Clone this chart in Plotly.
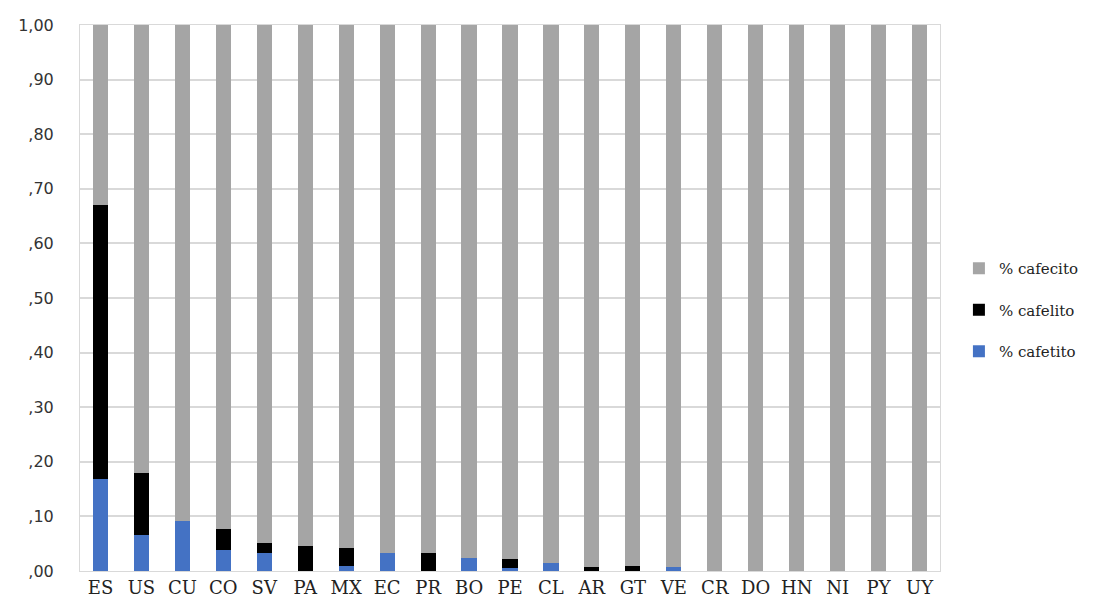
import plotly.graph_objects as go

countries = ["ES", "US", "CU", "CO", "SV", "PA", "MX", "EC", "PR", "BO", "PE",
             "CL", "AR", "GT", "VE", "CR", "DO", "HN", "NI", "PY", "UY"]
cafetito = [0.168, 0.066, 0.092, 0.038, 0.033, 0.0, 0.009, 0.033, 0.0, 0.024, 0.006,
            0.014, 0.0, 0.0, 0.008, 0.0, 0.0, 0.0, 0.0, 0.0, 0.0]
cafelito = [0.502, 0.114, 0.0, 0.039, 0.018, 0.046, 0.033, 0.0, 0.033, 0.0, 0.016,
            0.0, 0.008, 0.009, 0.0, 0.0, 0.0, 0.0, 0.0, 0.0, 0.0]
cafecito = [round(1 - a - b, 3) for a, b in zip(cafetito, cafelito)]

y_ticks = [0.0, 0.1, 0.2, 0.3, 0.4, 0.5, 0.6, 0.7, 0.8, 0.9, 1.0]
y_labels = [",00", ",10", ",20", ",30", ",40", ",50", ",60", ",70", ",80", ",90", "1,00"]

serif = "DejaVu Serif"

fig = go.Figure()
# stacked bottom to top; legend lists the top segment first
for rank, (name, vals, col) in zip([3, 2, 1], [("% cafetito", cafetito, "#4472C4"),
                                               ("% cafelito", cafelito, "#000000"),
                                               ("% cafecito", cafecito, "#A5A5A5")]):
    fig.add_trace(go.Bar(x=countries, y=vals, name=name, marker_color=col,
                         marker_line_width=0, width=0.37, legendgroup=name,
                         legendrank=rank))

fig.update_layout(
    barmode="stack",
    width=1107, height=612,
    margin=dict(l=80, r=167, t=25, b=41),
    plot_bgcolor="white", paper_bgcolor="white",
    legend=dict(x=1.022, y=0.478, xanchor="left", yanchor="middle",
                traceorder="grouped", tracegroupgap=19, itemwidth=30,
                font=dict(family=serif, size=15, color="#222222")),
    xaxis=dict(tickfont=dict(family=serif, size=18, color="#222222"),
               showline=True, linecolor="#d9d9d9", mirror=True, ticks="",
               range=[-0.5, 20.5]),
    yaxis=dict(range=[0, 1.0], tickvals=y_ticks, ticktext=y_labels,
               tickfont=dict(family="DejaVu Sans", size=16, color="#333333"),
               showgrid=True, gridcolor="#d9d9d9", gridwidth=1.5,
               showline=True, linecolor="#d9d9d9", mirror=True,
               ticks="", ticklabelstandoff=22, zeroline=False),
)

fig.write_html("out.html")
